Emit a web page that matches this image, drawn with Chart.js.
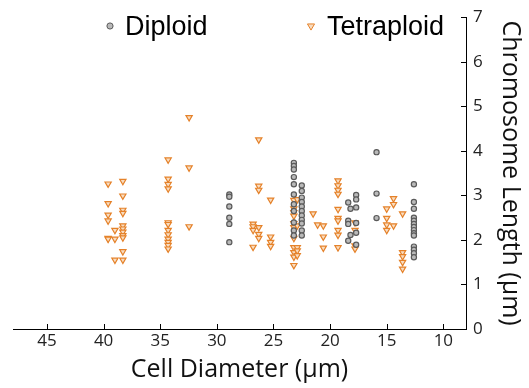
<!DOCTYPE html>
<html lang="en">
<head>
    <meta charset="UTF-8">
    <title>Chromosome Length vs Cell Diameter</title>
    <script src="https://cdn.jsdelivr.net/npm/chart.js@4.4.0/dist/chart.umd.min.js"></script>
    <style>
        body { margin: 0; background: #ffffff; }
        #wrap { width: 529px; height: 388px; }
    </style>
</head>
<body>
    <div id="wrap"><canvas id="sizeChart" width="529" height="388"></canvas></div>

    <script>
        // Cell diameter of each column of points, and the chromosome lengths measured there
        const diploidDiameter = [28.9, 23.2, 22.5, 18.4, 18.2, 17.7, 15.9, 12.6];
        const diploidLength = [
            [3.02, 2.97, 2.75, 2.50, 2.36, 1.95],
            [3.73, 3.66, 3.58, 3.41, 3.25, 3.02, 2.80, 2.65, 2.39, 2.21, 2.10],
            [3.22, 3.10, 2.95, 2.85, 2.75, 2.65, 2.55, 2.45, 2.37, 2.21, 2.10],
            [2.84, 2.43, 2.36, 1.98],
            [2.70, 2.11],
            [3.01, 2.91, 2.73, 2.38, 2.16, 1.89],
            [3.97, 3.04, 2.49],
            [3.25, 2.85, 2.70, 2.50, 2.43, 2.36, 2.29, 2.22, 2.15, 2.10, 1.85, 1.78, 1.70, 1.61]
        ];

        const tetraDiameter = [39.6, 39.0, 38.3, 34.3, 32.45, 26.8, 26.3, 25.25, 23.2, 22.9, 21.5, 21.1, 20.6, 19.3, 17.8, 15.0, 14.4, 13.6];
        const tetraLength = [
            [3.26, 2.82, 2.56, 2.43, 2.04, 2.02],
            [2.22, 2.02, 1.55],
            [3.32, 2.99, 2.67, 2.60, 2.32, 2.25, 2.18, 2.10, 2.05, 1.74, 1.55],
            [3.80, 3.37, 3.25, 3.15, 2.39, 2.35, 2.22, 2.12, 2.02, 1.95, 1.88, 1.80],
            [4.75, 3.62, 2.30],
            [2.36, 2.30, 2.22, 1.84],
            [4.25, 3.21, 3.12, 2.28, 2.13, 2.04],
            [2.90, 2.07, 1.95, 1.86],
            [2.89, 2.70, 2.62, 2.54, 2.37, 2.28, 2.04, 1.83, 1.72, 1.62, 1.43],
            [2.91, 2.32, 1.83, 1.76, 1.65],
            [2.59],
            [2.34],
            [2.32, 2.07, 1.82],
            [3.33, 3.22, 3.12, 3.03, 2.69, 2.49, 2.43, 2.22, 2.11, 1.83],
            [2.39, 2.22, 1.87, 1.80],
            [2.70, 2.49, 2.34, 2.22],
            [2.93, 2.80, 2.32],
            [2.59, 1.72, 1.63, 1.50, 1.35]
        ];

        const xTicks = [45, 40, 35, 30, 25, 20, 15, 10];
        const seriesNames = ['Diploid', 'Tetraploid'];

        // turn the columns into {x, y} points
        const toPoints = (xs, ys) => xs.flatMap((x, i) => ys[i].map(y => ({ x: x, y: y })));

        const axisFont = { family: "'Open Sans', sans-serif", size: 17 };
        const titleFont = { family: "'Open Sans', sans-serif", size: 25 };

        // inward tick marks on both axes
        const inwardTicks = {
            id: 'inwardTicks',
            afterDraw(chart) {
                const { ctx, chartArea, scales } = chart;
                ctx.save();
                ctx.strokeStyle = '#000';
                ctx.lineWidth = 1;
                ctx.beginPath();
                scales.x.ticks.forEach(t => {
                    const px = Math.round(scales.x.getPixelForValue(t.value)) + 0.5;
                    ctx.moveTo(px, chartArea.bottom);
                    ctx.lineTo(px, chartArea.bottom - 5);
                });
                scales.y.ticks.forEach(t => {
                    const py = Math.round(scales.y.getPixelForValue(t.value)) + 0.5;
                    ctx.moveTo(chartArea.right, py);
                    ctx.lineTo(chartArea.right - 5, py);
                });
                ctx.stroke();
                ctx.restore();
            }
        };

        // legend drawn inside the top of the plot, like the original figure
        const topLegend = {
            id: 'topLegend',
            afterDraw(chart) {
                const ctx = chart.ctx;
                const spots = [{ mx: 110, tx: 125 }, { mx: 311, tx: 327 }];
                ctx.save();
                ctx.font = "27px 'Liberation Sans', Arial, sans-serif";
                ctx.fillStyle = '#000';
                ctx.textBaseline = 'alphabetic';
                chart.data.datasets.forEach((ds, i) => {
                    const s = spots[i];
                    ctx.lineWidth = 1;
                    ctx.fillStyle = ds.backgroundColor;
                    ctx.strokeStyle = ds.borderColor;
                    Chart.helpers.drawPoint(ctx, {
                        pointStyle: ds.pointStyle,
                        rotation: ds.rotation || 0,
                        radius: ds.pointRadius + 0.5,
                        borderWidth: 1
                    }, s.mx, 26);
                    ctx.fillStyle = '#000';
                    ctx.fillText(ds.label, s.tx, 35);
                });
                ctx.restore();
            }
        };

        const ctx = document.getElementById('sizeChart').getContext('2d');
        const sizeChart = new Chart(ctx, {
            type: 'scatter',
            data: {
                datasets: [{
                    label: seriesNames[0],
                    data: toPoints(diploidDiameter, diploidLength),
                    pointStyle: 'circle',
                    pointRadius: 2.6,
                    borderWidth: 1.2,
                    backgroundColor: '#b9b9b9',
                    borderColor: '#5a5a5a'
                }, {
                    label: seriesNames[1],
                    data: toPoints(tetraDiameter, tetraLength),
                    pointStyle: 'triangle',
                    rotation: 180,
                    pointRadius: 3.6,
                    borderWidth: 1.2,
                    backgroundColor: '#f8dcc0',
                    borderColor: '#e5822a'
                }]
            },
            options: {
                responsive: false,
                animation: false,
                events: [],
                layout: { padding: { left: 13, top: 15, right: 0, bottom: 0 } },
                plugins: {
                    legend: { display: false },
                    tooltip: { enabled: false }
                },
                scales: {
                    x: {
                        type: 'linear',
                        reverse: true,
                        min: 8,
                        max: 48,
                        afterBuildTicks: s => { s.ticks = xTicks.map(v => ({ value: v })); },
                        afterFit: s => { s.height = 59; },
                        grid: { display: false, drawTicks: false },
                        border: { display: true, color: '#000', width: 1 },
                        ticks: { color: '#222', font: axisFont, padding: 2, maxRotation: 0 },
                        title: {
                            display: true,
                            text: 'Cell Diameter (μm)',
                            color: '#111',
                            font: titleFont,
                            padding: { top: 0, bottom: 3 }
                        }
                    },
                    y: {
                        position: 'right',
                        min: 0,
                        max: 7,
                        ticks: { stepSize: 1, color: '#222', font: axisFont, padding: 7 },
                        afterFit: s => { s.width = 63; },
                        grid: { display: false, drawTicks: false },
                        border: { display: true, color: '#000', width: 1 },
                        title: {
                            display: true,
                            text: 'Chromosome Length (μm)',
                            color: '#111',
                            font: titleFont,
                            padding: { top: 4, bottom: 0 }
                        }
                    }
                }
            },
            plugins: [inwardTicks, topLegend]
        });
    </script>
</body>
</html>
